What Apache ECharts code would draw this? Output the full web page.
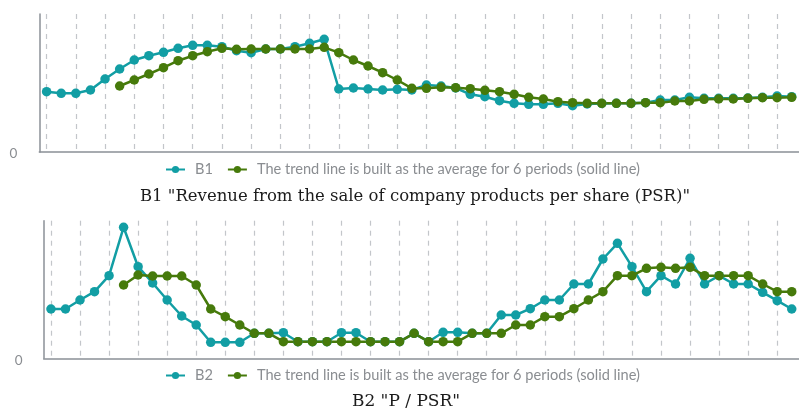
<!DOCTYPE html>
<html>
<head>
<meta charset="utf-8">
<script src="https://cdn.jsdelivr.net/npm/echarts@6/dist/echarts.min.js"></script>
<style>
html,body{margin:0;padding:0;background:#fff;}
#c{width:799px;height:409px;}
</style>
</head>
<body>
<div id="c"></div>
<script>
var categories = ['P1','P2','P3','P4','P5','P6','P7','P8','P9','P10','P11','P12','P13','P14','P15','P16','P17','P18','P19','P20','P21','P22','P23','P24','P25','P26','P27','P28','P29','P30','P31','P32','P33','P34','P35','P36','P37','P38','P39','P40','P41','P42','P43','P44','P45','P46','P47','P48','P49','P50','P51','P52'];

var b1 = [60.3,58.7,58.7,62,73,83,92,96.3,99.7,103.7,
          106.7,106.7,105.3,101.3,99.3,103,103,105.3,108.7,112.7,
          63,64,63,62,62.7,62,67,66,64,57.7,
          55.3,51.3,48.7,47.7,47.7,48.7,46.3,48,48.5,48.7,
          48.7,49.3,52,52,54.7,53.7,53.7,53.7,54,54.7,
          56,55.3];
var b1Trend = [null,null,null,null,null,66,72,78,84.3,91.3,
          96.3,100.3,103.7,102.7,103,103,103,103,103,104.7,
          99.3,92,86,79.3,72,63.7,63.7,64.7,64.3,63.3,
          61.7,60.3,57.7,54.7,53,50.3,49.3,48.7,48.7,48.7,
          48.7,49.3,49.3,51,51,52.7,53,53,53.7,54.3,
          54.3,54.7];

var b2 = [49.3,49.3,58.3,66.6,82.6,131,91.6,75.3,58.3,42.3,
          33.3,16,16,16,25,25,25.6,16.6,16.6,16.6,
          25.6,25.6,16.6,16.6,16.6,25,16.6,26,26,25,
          25,43.3,43.3,49.6,58.3,58.3,74.3,74.3,99.3,115,
          91.6,66.6,82.6,74.3,100,74.3,82.6,74.3,74.3,66,
          57.6,49.3];
var b2Trend = [null,null,null,null,null,73.3,83.3,82.3,82.3,82.3,
          73.3,49.3,41.6,33.3,25,25,16.6,16.6,16.6,16.6,
          16.6,16.6,16.6,16.6,16.6,25,16.6,16.6,16.6,25,
          25,25,33.3,33.3,41.6,41.6,49.6,58.3,66.6,82.6,
          82.6,90,91,90,91,82.6,82.6,82.6,82.6,74.3,
          66.6,66.6];

var yMax1 = 138;
var yMax2 = 137.6;
var trendName = 'The trend line is built as the average for 6 periods (solid line)';
var title1 = 'B1 "Revenue from the sale of company products per share (PSR)"';
var title2 = 'B2 "P / PSR"';

var C1 = '#129ea4', C2 = '#467a0b';
var axisCol = '#8b9097';

function xAxisCfg(gi){
  return {
    type:'category', gridIndex:gi, data:categories, boundaryGap:true,
    axisLine:{show:true, lineStyle:{color:axisCol, width:1.5}},
    axisTick:{show:false}, axisLabel:{show:false},
    splitLine:{show:true, interval:1, alignWithLabel:true, lineStyle:{color:'#c3c6ca', width:1.2, type:[5,5]}}
  };
}
function yAxisCfg(gi, mx, margin, lh){
  return {
    type:'value', gridIndex:gi, min:0, max:mx, interval:mx,
    axisLine:{show:true, lineStyle:{color:axisCol, width:1.5}},
    axisTick:{show:false}, splitLine:{show:false},
    axisLabel:{margin:margin, color:'#8a8d91', fontFamily:'Lato', fontSize:13.5,
      verticalAlign:'top', lineHeight:lh,
      formatter:function(v){return v===0?'0':'';}}
  };
}
function lineSeries(name, data, color, gi){
  return {
    name:name, type:'line', xAxisIndex:gi, yAxisIndex:gi, data:data,
    symbol:'circle', symbolSize:9.5, showAllSymbol:true,
    lineStyle:{color:color, width:2.5}, itemStyle:{color:color},
    animation:false
  };
}
var legendBase = {
  orient:'horizontal', left:165, padding:0, itemWidth:19, itemHeight:9, itemGap:14,
  textStyle:{color:'#8a8d91', fontFamily:'Lato', fontSize:14.6, padding:[0,0,0,5]}
};

var chart = echarts.init(document.getElementById('c'), null, {renderer:'canvas'});
chart.setOption({
  animation:false,
  title:[
    {text:title1, left:415, top:188, textAlign:'center', padding:0,
     textStyle:{fontFamily:'DejaVu Serif', fontSize:16.5, fontWeight:'normal', color:'#1b1b1b'}},
    {text:title2, left:406, top:393, textAlign:'center', padding:0,
     textStyle:{fontFamily:'DejaVu Serif', fontSize:17, fontWeight:'normal', color:'#1b1b1b'}}
  ],
  legend:[
    Object.assign({}, legendBase, {top:162, data:['B1', trendName + ' ']}),
    Object.assign({}, legendBase, {top:368, data:['B2', trendName + '  ']})
  ],
  grid:[
    {left:39.3, top:14, width:768, height:138},
    {left:43.7, top:220.7, width:759.5, height:137.6}
  ],
  xAxis:[xAxisCfg(0), xAxisCfg(1)],
  yAxis:[yAxisCfg(0, yMax1, 22, 4), yAxisCfg(1, yMax2, 21, 5)],
  series:[
    lineSeries('B1', b1, C1, 0),
    lineSeries(trendName + ' ', b1Trend, C2, 0),
    lineSeries('B2', b2, C1, 1),
    lineSeries(trendName + '  ', b2Trend, C2, 1)
  ]
});
</script>
</body>
</html>
